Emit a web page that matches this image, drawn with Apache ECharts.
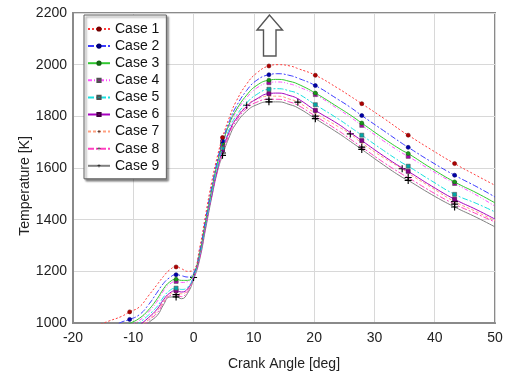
<!DOCTYPE html>
<html>
<head>
<meta charset="utf-8">
<script src="https://cdn.jsdelivr.net/npm/echarts@6/dist/echarts.min.js"></script>
<style>html,body{margin:0;padding:0;background:#fff}#c{width:508px;height:374px}</style>
</head>
<body>
<div id="c"></div>
<script>
// Crank angle sample positions [deg]
const angles = [-16, -14, -12, -10.6, -9, -7.5, -6, -5, -4, -2.9, -2, -1, 0, 1, 2, 3, 4, 4.8, 6, 7, 8.8, 10.5, 12.5, 14, 16, 17.3, 20.2, 24, 26, 27.9, 31.5, 34.6, 35.6, 39.5, 43.3, 47, 50];
// Temperatures [K]
const case1 = [990, 1008, 1025, 1043, 1062, 1105, 1150, 1180, 1205, 1217, 1210, 1200, 1205, 1290, 1420, 1545, 1650, 1718, 1800, 1855, 1925, 1968, 1995, 2000, 1995, 1985, 1959, 1908, 1878, 1849, 1793, 1742, 1727, 1670, 1617, 1570, 1533];
const case2 = [960, 980, 1003, 1014, 1032, 1070, 1120, 1153, 1175, 1187, 1183, 1178, 1192, 1278, 1405, 1528, 1635, 1705, 1785, 1835, 1900, 1940, 1961, 1965, 1958, 1948, 1919, 1865, 1835, 1803, 1745, 1695, 1680, 1623, 1572, 1527, 1488];
const case3 = [930, 955, 980, 998, 1018, 1050, 1095, 1132, 1158, 1169, 1165, 1165, 1188, 1270, 1395, 1515, 1625, 1695, 1775, 1822, 1882, 1920, 1940, 1943, 1935, 1925, 1890, 1835, 1805, 1774, 1715, 1668, 1656, 1598, 1546, 1503, 1465];
const case4 = [920, 945, 970, 990, 1010, 1042, 1085, 1124, 1150, 1161, 1157, 1160, 1185, 1265, 1390, 1510, 1620, 1690, 1768, 1815, 1872, 1910, 1930, 1933, 1925, 1915, 1884, 1828, 1797, 1765, 1705, 1658, 1645, 1590, 1540, 1494, 1452];
const case5 = [880, 910, 945, 965, 1000, 1030, 1065, 1100, 1125, 1135, 1130, 1138, 1180, 1258, 1382, 1500, 1608, 1678, 1755, 1800, 1852, 1885, 1905, 1907, 1898, 1888, 1845, 1790, 1758, 1727, 1668, 1620, 1607, 1550, 1498, 1462, 1430];
const case6 = [860, 895, 930, 950, 990, 1020, 1055, 1090, 1115, 1125, 1120, 1132, 1178, 1255, 1378, 1495, 1600, 1670, 1745, 1788, 1838, 1868, 1888, 1890, 1880, 1868, 1823, 1770, 1737, 1706, 1647, 1600, 1587, 1530, 1479, 1438, 1402];
const case7 = [850, 885, 920, 942, 985, 1012, 1048, 1083, 1110, 1118, 1113, 1128, 1176, 1255, 1378, 1495, 1600, 1668, 1745, 1790, 1843, 1866, 1878, 1878, 1866, 1855, 1812, 1760, 1732, 1697, 1640, 1597, 1580, 1524, 1470, 1430, 1396];
const case8 = [840, 875, 910, 935, 968, 1008, 1040, 1078, 1105, 1110, 1102, 1122, 1172, 1250, 1372, 1490, 1595, 1658, 1735, 1780, 1830, 1855, 1866, 1866, 1855, 1843, 1801, 1745, 1712, 1681, 1622, 1576, 1563, 1508, 1460, 1422, 1391];
const case9 = [830, 865, 900, 925, 958, 1000, 1030, 1070, 1100, 1101, 1094, 1115, 1168, 1245, 1365, 1485, 1590, 1649, 1725, 1770, 1820, 1845, 1856, 1856, 1845, 1833, 1791, 1735, 1703, 1672, 1612, 1564, 1552, 1497, 1449, 1408, 1372];
// Marker positions [deg]
const markA = [-10.6, -2.9, 4.8, 12.5, 20.2, 27.9, 35.6, 43.3];
const markB = [0, 8.8, 17.3, 26, 34.6, 43.3];
// Axis ticks
const xTicks = [-20, -10, 0, 10, 20, 30, 40, 50];
const yTicks = [1000, 1200, 1400, 1600, 1800, 2000, 2200];
const names = ['Case 1', 'Case 2', 'Case 3', 'Case 4', 'Case 5', 'Case 6', 'Case 7', 'Case 8', 'Case 9'];

const plus = 'path://M-1,-0.16H-0.16V-1H0.16V-0.16H1V0.16H0.16V1H-0.16V0.16H-1Z';
const styles = [
  {c: '#ff3b3b', t: [2, 2], s: 'circle', f: '#b00000', b: '#700000', m: markA, z: 4},
  {c: '#3b3bff', t: [6, 2, 2, 2], s: 'circle', f: '#0000a8', b: '#000070', m: markA, z: 4},
  {c: '#30c830', t: 'solid', s: 'circle', f: '#1a9a1a', b: '#106010', m: markA, z: 4},
  {c: '#ff50ff', t: [4, 2, 1, 2, 1, 2], s: 'rect', f: '#b000b0', b: '#505050', m: markA, z: 4},
  {c: '#18e0e0', t: [6, 2, 2, 2], s: 'rect', f: '#00a8a8', b: '#505050', m: markA, z: 4},
  {c: '#a800c0', t: 'solid', s: 'rect', f: '#880088', b: '#400040', m: markA, z: 4},
  {c: '#ffa080', t: [3, 2], s: plus, f: '#000', b: '#000', m: markB, z: 7},
  {c: '#ff40c0', t: [6, 2, 2, 2], s: plus, f: '#000', b: '#000', m: markA, z: 7},
  {c: '#808080', t: 'solid', s: plus, f: '#000', b: '#000', m: markA, z: 7}
];
const values = [case1, case2, case3, case4, case5, case6, case7, case8, case9];

const series = values.map((vals, i) => {
  const st = styles[i];
  return {
    name: names[i],
    type: 'line',
    data: angles.map((a, k) => [a, vals[k]]),
    smooth: 0.5,
    clip: true,
    symbol: st.s,
    symbolSize: (v) => st.m.includes(v[0]) ? st.z : 0,
    lineStyle: {color: st.c, width: 1, type: st.t},
    itemStyle: {color: st.f, borderColor: st.b, borderWidth: st.s === plus ? 0 : 0.6},
    emphasis: {disabled: true},
    z: 2 + (8 - i) * 0.01
  };
});

const chart = echarts.init(document.getElementById('c'), null, {renderer: 'canvas'});
chart.setOption({
  animation: false,
  backgroundColor: '#fff',
  textStyle: {fontFamily: 'Liberation Sans, Arial, sans-serif'},
  grid: {left: 73, right: 13, top: 13, bottom: 51, outerBoundsMode: 'none', show: true, borderColor: '#8a8a8a', borderWidth: 2, backgroundColor: 'transparent'},
  xAxis: {
    type: 'value', min: xTicks[0], max: xTicks[xTicks.length - 1], interval: 10,
    name: 'Crank Angle [deg]', nameLocation: 'middle', nameGap: 34, nameMoveOverlap: false,
    nameTextStyle: {fontSize: 14, color: '#222', fontFamily: 'Liberation Sans'},
    axisLine: {show: true, onZero: false, lineStyle: {color: '#8a8a8a', width: 2}},
    axisTick: {show: false},
    axisLabel: {fontSize: 14, color: '#222', margin: 8, fontFamily: 'Liberation Sans', formatter: (v) => String(v)},
    splitLine: {show: true, lineStyle: {color: '#d8d8d8', width: 1}}
  },
  yAxis: {
    type: 'value', min: yTicks[0], max: yTicks[yTicks.length - 1], interval: 200,
    name: 'Temperature [K]', nameLocation: 'middle', nameGap: 41, nameMoveOverlap: false,
    nameTextStyle: {fontSize: 14, color: '#222', fontFamily: 'Liberation Sans', padding: [0, 36, 0, 0]},
    axisLine: {show: true, onZero: false, lineStyle: {color: '#8a8a8a', width: 2}},
    axisTick: {show: false},
    axisLabel: {fontSize: 14, color: '#222', margin: 6, fontFamily: 'Liberation Sans', formatter: (v) => String(v)},
    splitLine: {show: true, lineStyle: {color: '#d8d8d8', width: 1}}
  },
  legend: {
    data: names,
    orient: 'vertical',
    left: 84, top: 15,
    padding: [7, 7, 6, 3],
    itemWidth: 22, itemHeight: 4, itemGap: 3.1,
    backgroundColor: '#fff',
    borderColor: '#606060', borderWidth: 1,
    shadowColor: 'rgba(0,0,0,0.45)', shadowBlur: 2, shadowOffsetX: 2, shadowOffsetY: 2,
    textStyle: {fontSize: 14, color: '#111', lineHeight: 14, fontFamily: 'Liberation Sans'},
    selectedMode: false
  },
  graphic: [{
    type: 'polygon',
    shape: {points: [[269.5, 15], [257, 30], [263.5, 30], [263.5, 56], [276, 56], [276, 30], [282.5, 30]]},
    style: {fill: '#fff', stroke: '#555', lineWidth: 1.4},
    z: 10
  }],
  series: series
});
</script>
</body>
</html>
